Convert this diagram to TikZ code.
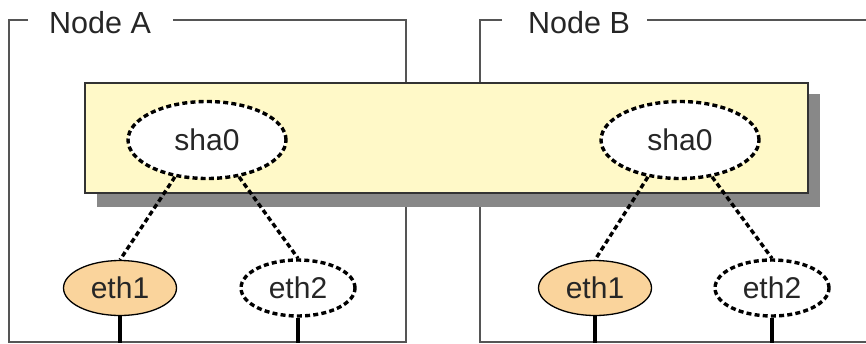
\documentclass[tikz,border=0pt]{standalone}
\usepackage{fontspec}
\setmainfont{Liberation Sans}
\usetikzlibrary{shapes.geometric}
\definecolor{boxyellow}{HTML}{FFF9C8}
\definecolor{ethorange}{HTML}{FAD49C}
\definecolor{framegray}{HTML}{555555}
\definecolor{shadowgray}{HTML}{888888}
\begin{document}
\begin{tikzpicture}[x=1pt,y=-1pt,
  frame/.style={draw=framegray, line width=1.5pt},
  lbl/.style={font=\fontsize{30.5}{33}\selectfont, text=black!85, inner sep=0pt, anchor=base west},
  dotline/.style={line width=3.4pt, dash pattern=on 5pt off 3.2pt},
  ifc/.style={ellipse, inner sep=0pt, font=\fontsize{30}{33}\selectfont, text=black!85},
  shanode/.style={ifc, draw=black, dotline, fill=white, minimum width=158pt, minimum height=77pt},
  realnic/.style={ifc, draw=black, line width=1.3pt, fill=ethorange, minimum width=113pt, minimum height=55pt},
  virtnic/.style={ifc, draw=black, dotline, fill=white, minimum width=114pt, minimum height=56pt},
  wire/.style={line width=3.2pt, draw=black}
]
\useasboundingbox (0,0) rectangle (866,343);
\begin{scope}
\clip (0,0) rectangle (866,343);
% frames
\draw[frame] (28,20) -- (9,20) -- (9,342) -- (406,342) -- (406,20) -- (173,20);
\node[lbl] (labA) at (49,33) {Node A};
\draw[frame] (502,20) -- (480,20) -- (480,342) -- (880,342);
\draw[frame] (647,20) -- (880,20);
\node[lbl] (labB) at (528,33) {Node B};
% shared box
\fill[shadowgray] (97,94) rectangle (820,207);
\draw[fill=boxyellow, draw=black!80, line width=1.3pt] (85,83) rectangle (808,193);
% sha nodes
\node[shanode] (shaA) at (207,140) {sha0};
\node[shanode] (shaB) at (680,140) {sha0};
% nics
\node[realnic] (e1A) at (120,288) {eth1};
\node[virtnic] (e2A) at (298,288) {eth2};
\node[realnic] (e1B) at (595,288) {eth1};
\node[virtnic] (e2B) at (772,288) {eth2};
% connectors
\draw[dotline] (shaA.229) -- (e1A.north);
\draw[dotline] (shaA.311) -- (e2A.north);
\draw[dotline] (shaB.229) -- (e1B.north);
\draw[dotline] (shaB.311) -- (e2B.north);
\coordinate (d1A) at (120,343);
\coordinate (d2A) at (298,343);
\coordinate (d1B) at (595,343);
\coordinate (d2B) at (772,343);
\draw[wire] (e1A.south) -- (d1A);
\draw[wire] (e2A.south) -- (d2A);
\draw[wire] (e1B.south) -- (d1B);
\draw[wire] (e2B.south) -- (d2B);
\end{scope}
\end{tikzpicture}
\end{document}
